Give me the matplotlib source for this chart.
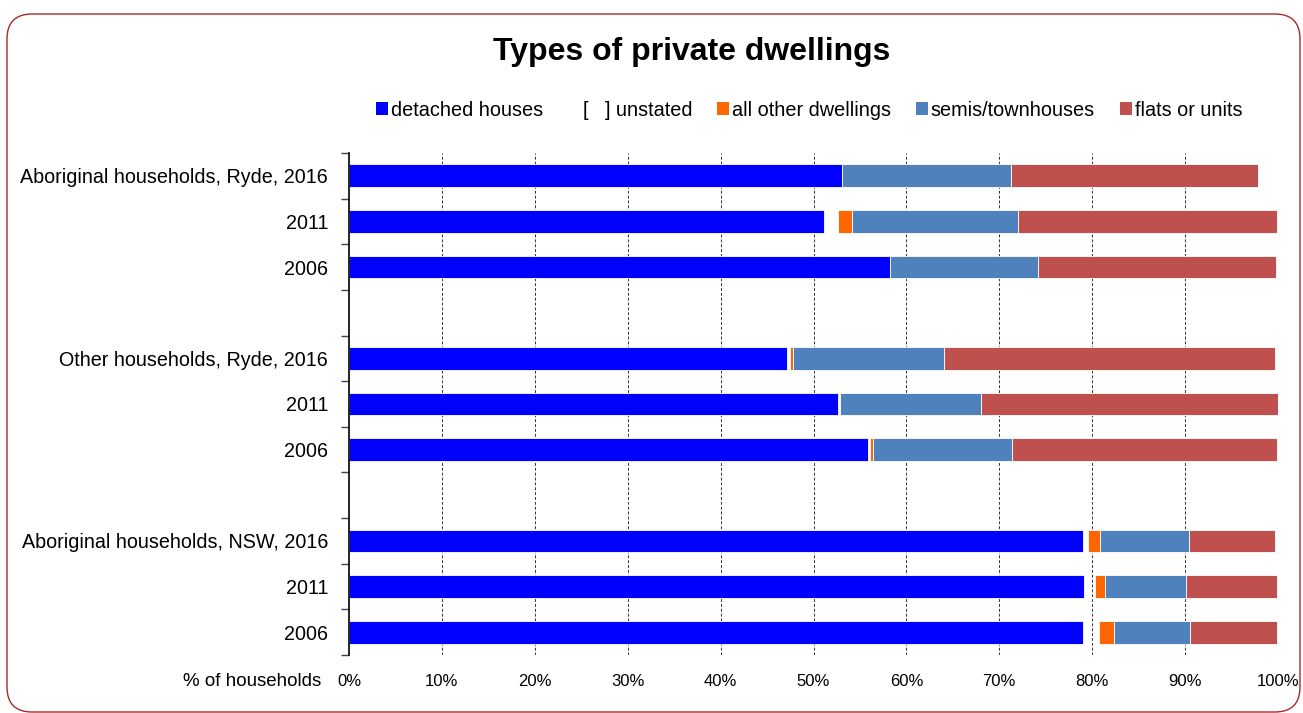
import matplotlib
matplotlib.use("Agg")
import matplotlib.pyplot as plt
from matplotlib.patches import Patch, FancyBboxPatch
import numpy as np

plt.rcParams['font.family'] = ['Liberation Sans', 'DejaVu Sans']

# Data (% of households)
bar_labels = [
    "Aboriginal households, Ryde, 2016", "2011", "2006",
    "Other households, Ryde, 2016", "2011", "2006",
    "Aboriginal households, NSW, 2016", "2011", "2006",
]
detached = [53.1, 51.1, 58.2, 47.2, 52.6, 55.9, 79.0, 79.1, 79.0]
unstated = [0.0, 1.5, 0.0, 0.3, 0.1, 0.2, 0.6, 1.2, 1.7]
other = [0.0, 1.5, 0.0, 0.3, 0.15, 0.3, 1.2, 1.1, 1.7]
semis = [18.2, 17.9, 16.0, 16.3, 15.2, 15.0, 9.6, 8.7, 8.1]
flats = [26.6, 27.9, 25.6, 35.6, 31.9, 28.5, 9.3, 9.8, 9.4]

series = [
    ("detached houses", detached, "#0000FF"),
    ("[   ] unstated", unstated, "none"),
    ("all other dwellings", other, "#FF6600"),
    ("semis/townhouses", semis, "#4F81BD"),
    ("flats or units", flats, "#C0504D"),
]

fig = plt.figure(figsize=(13.03, 7.13), dpi=100)
ax = fig.add_axes([349 / 1303, 1 - 655 / 713, 929 / 1303, 502 / 713])

# three groups of three bars, with a blank row between groups
pos = np.array([i + i // 3 for i in range(len(bar_labels))])
left = np.zeros(len(bar_labels))
for name, vals, col in series:
    vals = np.array(vals)
    edge = "none" if col == "none" else "white"
    ax.barh(pos, vals, left=left, height=0.5, color=col, edgecolor=edge,
            linewidth=0.6, zorder=3)
    left += vals

n_rows = pos.max() + 1
ax.set_ylim(n_rows - 0.5, -0.5)
ax.set_xlim(0, 100)

# row boundary ticks, labels on bar centres
ax.set_yticks(np.arange(-0.5, n_rows, 1.0))
ax.set_yticklabels([])
ax.tick_params(axis="y", which="major", length=6, width=1, color="#444444")
ax.set_yticks(pos, minor=True)
ax.set_yticklabels(bar_labels, minor=True, fontsize=14.2)
ax.tick_params(axis="y", which="minor", length=0, pad=15)

ax.set_xticks(np.arange(0, 101, 10))
ax.set_xticklabels([f"{v}%" for v in range(0, 101, 10)], fontsize=12)
ax.tick_params(axis="x", length=0, pad=14)

for v in range(10, 101, 10):
    ax.axvline(v, color="#333333", linestyle=(0, (3, 2)), linewidth=0.7, zorder=1)

for s in ["top", "right", "bottom"]:
    ax.spines[s].set_visible(False)
ax.spines["left"].set_linewidth(1.2)
ax.spines["left"].set_zorder(4)

fig.text(321 / 1303, 1 - 681 / 713, "% of households", ha="right", va="center",
         fontsize=13.5)

fig.text(692 / 1303, 1 - 52 / 713, "Types of private dwellings", ha="center",
         va="center", fontsize=23, fontweight="bold")

handles = [Patch(facecolor=c if c != "none" else "none", edgecolor="none", label=n)
           for n, _, c in series]
fig.legend(handles=handles, loc="center", bbox_to_anchor=(809 / 1303, 1 - 110 / 713),
           ncol=5, frameon=False, fontsize=14.3, handlelength=0.6, handleheight=0.6,
           handletextpad=0.15, columnspacing=1.25, borderpad=0, borderaxespad=0)

border = FancyBboxPatch((7, 1), 1293, 698, boxstyle="round,pad=0,rounding_size=25",
                        transform=None, facecolor="none", edgecolor="#A52A2A",
                        linewidth=1.0)
fig.patches.append(border)

fig.savefig("out.png", dpi=100)
